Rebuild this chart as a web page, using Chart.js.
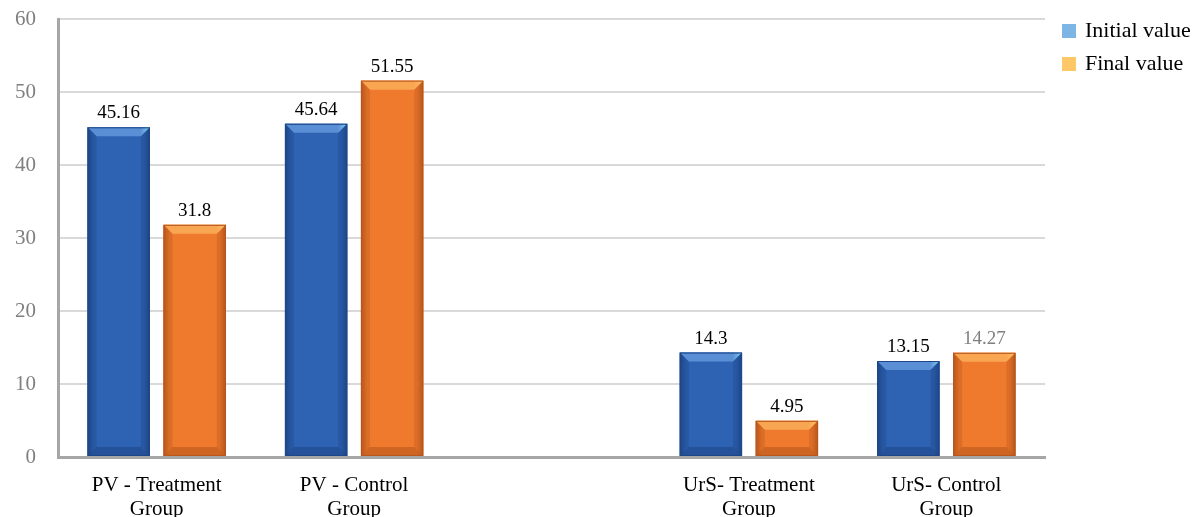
<!DOCTYPE html>
<html>
<head>
<meta charset="utf-8">
<script src="https://cdn.jsdelivr.net/npm/chart.js@4"></script>
<style>
  html, body { margin: 0; padding: 0; background: #fff; }
  #wrap { width: 1197px; height: 517px; position: relative; }
</style>
</head>
<body>
<div id="wrap"><canvas id="c" width="1197" height="517"></canvas></div>
<script>
// Groups (an empty slot separates the PV and UrS groups)
const categories = [
  ['PV - Treatment', 'Group'],
  ['PV - Control', 'Group'],
  '',
  ['UrS- Treatment', 'Group'],
  ['UrS- Control', 'Group']
];
const initialValues = [45.16, 45.64, null, 14.3, 13.15];
const finalValues = [31.8, 51.55, null, 4.95, 14.27];
const seriesNames = ['Initial value', 'Final value'];
const yTicks = [0, 10, 20, 30, 40, 50, 60];

const FONT = '"Liberation Serif", "DejaVu Serif", serif';
const palette = [
  { base: '#2E63B3', light: '#5A8FD6', tip: '#7FD0F0', dark: '#1E4687', legend: '#7DB5E4' },
  { base: '#EF7A2D', light: '#F9A652', tip: '#FFC46A', dark: '#B8561C', legend: '#FFC867' }
];

// Bevelled "3D" look for each bar, painted over the library's bar geometry
const bevelPlugin = {
  id: 'bevel',
  afterDatasetsDraw(chart) {
    const ctx = chart.ctx;
    chart.data.datasets.forEach((ds, di) => {
      const meta = chart.getDatasetMeta(di);
      const p = palette[di];
      meta.data.forEach((bar, i) => {
        if (ds.data[i] == null) return;
        const { x, y, base, width } = bar.getProps(['x', 'y', 'base', 'width'], true);
        const l = x - width / 2, r = x + width / 2, t = y, b = base;
        const h = b - t;
        const bv = Math.min(9, h / 3);
        ctx.save();
        // body with subtle horizontal shading
        let g = ctx.createLinearGradient(l, 0, r, 0);
        g.addColorStop(0, p.dark);
        g.addColorStop(0.1, p.base);
        g.addColorStop(0.9, p.base);
        g.addColorStop(1, p.dark);
        ctx.fillStyle = g;
        ctx.fillRect(l, t, width, h);
        // top bevel
        g = ctx.createLinearGradient(l, 0, r, 0);
        g.addColorStop(0, p.light);
        g.addColorStop(0.85, p.light);
        g.addColorStop(1, p.tip);
        ctx.fillStyle = g;
        ctx.beginPath();
        ctx.moveTo(l, t); ctx.lineTo(r, t); ctx.lineTo(r - bv, t + bv); ctx.lineTo(l + bv, t + bv);
        ctx.closePath(); ctx.fill();
        // side bevels
        ctx.fillStyle = p.dark;
        ctx.globalAlpha = 0.35;
        ctx.beginPath();
        ctx.moveTo(l, t); ctx.lineTo(l + bv, t + bv); ctx.lineTo(l + bv, b - bv); ctx.lineTo(l, b);
        ctx.closePath(); ctx.fill();
        ctx.beginPath();
        ctx.moveTo(r, t); ctx.lineTo(r - bv, t + bv); ctx.lineTo(r - bv, b - bv); ctx.lineTo(r, b);
        ctx.closePath(); ctx.fill();
        // bottom bevel
        ctx.globalAlpha = 0.6;
        ctx.beginPath();
        ctx.moveTo(l, b); ctx.lineTo(l + bv, b - bv); ctx.lineTo(r - bv, b - bv); ctx.lineTo(r, b);
        ctx.closePath(); ctx.fill();
        ctx.globalAlpha = 1;
        ctx.strokeStyle = p.dark;
        ctx.lineWidth = 1;
        ctx.strokeRect(l + 0.5, t + 0.5, width - 1, h - 1);
        ctx.restore();
      });
    });
  }
};

// Value labels above the bars
const valueLabelPlugin = {
  id: 'valueLabels',
  afterDatasetsDraw(chart) {
    const ctx = chart.ctx;
    ctx.save();
    ctx.font = '19px ' + FONT;
    ctx.textAlign = 'center';
    ctx.textBaseline = 'middle';
    chart.data.datasets.forEach((ds, di) => {
      const meta = chart.getDatasetMeta(di);
      meta.data.forEach((bar, i) => {
        const v = ds.data[i];
        if (v == null) return;
        ctx.fillStyle = (di === 1 && i === 4) ? '#808080' : '#000';
        ctx.fillText(String(v), bar.x, bar.y - 14);
      });
    });
    ctx.restore();
  }
};

// Legend on the right
const sideLegendPlugin = {
  id: 'sideLegend',
  afterDraw(chart) {
    const ctx = chart.ctx;
    ctx.save();
    ctx.font = '22px ' + FONT;
    ctx.textBaseline = 'middle';
    ctx.textAlign = 'left';
    seriesNames.forEach((name, i) => {
      const cy = 31 + i * 33;
      ctx.fillStyle = palette[i].legend;
      ctx.fillRect(1062, cy - 7, 14, 14);
      ctx.fillStyle = '#000';
      ctx.fillText(name, 1085, cy);
    });
    ctx.restore();
  }
};

new Chart(document.getElementById('c'), {
  type: 'bar',
  data: {
    labels: categories,
    datasets: seriesNames.map((name, i) => ({
      label: name,
      data: i === 0 ? initialValues : finalValues,
      backgroundColor: palette[i].base,
      categoryPercentage: 0.77,
      barPercentage: 0.82
    }))
  },
  options: {
    responsive: false,
    animation: false,
    devicePixelRatio: 1,
    layout: { padding: { top: 19, right: 152, left: 0, bottom: 0 } },
    plugins: { legend: { display: false }, tooltip: { enabled: false } },
    scales: {
      x: {
        grid: { display: false, drawTicks: false },
        border: { color: '#A6A6A6', width: 3 },
        ticks: { color: '#000', font: { family: FONT, size: 21, lineHeight: 1.15 }, padding: 16, maxRotation: 0, autoSkip: false },
        afterFit(s) {
          s.height = 60;
          s.paddingLeft = 0; s.paddingRight = 0; s.paddingTop = 0; s.paddingBottom = 0;
        }
      },
      y: {
        min: 0, max: 60,
        afterBuildTicks(s) { s.ticks = yTicks.map(v => ({ value: v })); },
        grid: { color: '#D9D9D9', lineWidth: 2, drawTicks: false },
        border: { color: '#A6A6A6', width: 3 },
        ticks: { color: '#7F7F7F', font: { family: FONT, size: 21 }, padding: 22 },
        afterFit(s) {
          s.width = 58;
          s.paddingLeft = 0; s.paddingRight = 0; s.paddingTop = 0; s.paddingBottom = 0;
        }
      }
    }
  },
  plugins: [bevelPlugin, valueLabelPlugin, sideLegendPlugin]
});
</script>
</body>
</html>
